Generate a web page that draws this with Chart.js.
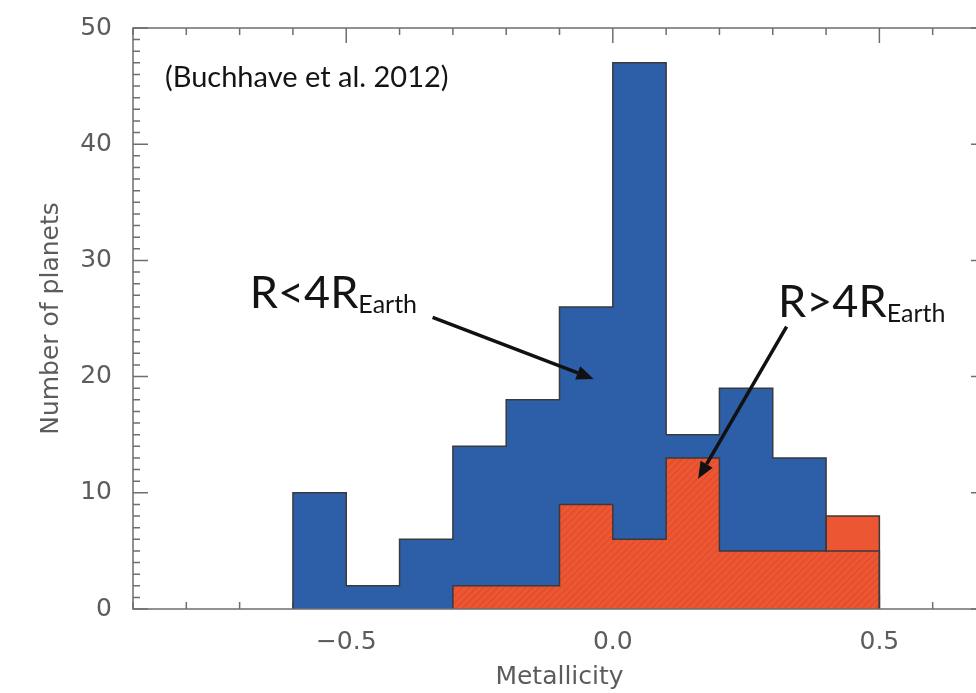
<!DOCTYPE html>
<html>
<head>
<meta charset="utf-8">
<script src="https://cdn.jsdelivr.net/npm/chart.js@4.4.1/dist/chart.umd.min.js"></script>
<style>
  html, body { margin: 0; padding: 0; background: #fff; overflow: hidden; }
  canvas { display: block; }
</style>
</head>
<body>
<canvas id="chart" width="1000" height="693"></canvas>
<script>
// bin edges in metallicity, 0.1 wide
const binEdges = [-0.6, -0.5, -0.4, -0.3, -0.2, -0.1, 0.0, 0.1, 0.2, 0.3, 0.4, 0.5];
// counts per bin
const smallCounts = [10, 2, 6, 14, 18, 26, 47, 15, 19, 13, 5];   // R < 4 R_Earth
const largeCounts = [0, 0, 0, 2, 2, 9, 6, 13, 5, 5, 8];          // R > 4 R_Earth
const xTicks = [-0.5, 0.0, 0.5];

const BLUE = '#2d5ea8';
const RED = '#ec5632';
const EDGE = '#3a3a3a';
const AXIS = '#6e6e6e';
const LABEL = '#5c5c5c';

// step outline points for a histogram (skip leading empty bins)
function stepPoints(counts) {
  let start = 0;
  while (start < counts.length && counts[start] === 0) start++;
  const pts = [{ x: binEdges[start], y: 0 }];
  for (let i = start; i < counts.length; i++) {
    pts.push({ x: binEdges[i], y: counts[i] });
  }
  const last = counts.length - 1;
  pts.push({ x: binEdges[last + 1], y: counts[last] });
  pts.push({ x: binEdges[last + 1], y: 0 });
  return pts;
}

const notes = [
  { text: '(Buchhave et al. 2012)', x: -0.84, y: 44.9, size: 29 },
  { text: 'R<4R', sub: 'Earth', x: -0.681, y: 25.9, size: 45 },
  { text: 'R>4R', sub: 'Earth', x: 0.31, y: 25.1, size: 45 }
];
const arrows = [
  { from: [-0.338, 25.1], to: [-0.036, 19.8] },
  { from: [0.326, 24.3], to: [0.160, 11.2] }
];

const frameTicks = {
  id: 'frameTicks',
  beforeDatasetsDraw(chart) {
    const { ctx, chartArea: a, scales: { x, y } } = chart;
    ctx.save();
    ctx.strokeStyle = AXIS;
    ctx.lineWidth = 1.5;
    ctx.beginPath();
    for (let i = 0; i <= 50; i++) {
      const py = y.getPixelForValue(i);
      const len = i % 10 === 0 ? 15 : 7;
      ctx.moveTo(a.left, py); ctx.lineTo(a.left + len, py);
      ctx.moveTo(a.right, py); ctx.lineTo(a.right - len, py);
    }
    for (let i = -9; i <= 7; i++) {
      const px = x.getPixelForValue(i / 10);
      const len = i % 5 === 0 ? 15 : 7;
      ctx.moveTo(px, a.bottom); ctx.lineTo(px, a.bottom - len);
      ctx.moveTo(px, a.top); ctx.lineTo(px, a.top + len);
    }
    ctx.stroke();
    ctx.restore();
  },
  afterDatasetDraw(chart, args) {
    if (args.index !== 1) return;
    // hatch where the large-planet bins sit under the small-planet bins
    const { ctx, scales: { x, y } } = chart;
    ctx.save();
    for (let i = 0; i < largeCounts.length; i++) {
      if (!largeCounts[i]) continue;
      const top = Math.min(largeCounts[i], smallCounts[i]);
      const x0 = x.getPixelForValue(binEdges[i]);
      const x1 = x.getPixelForValue(binEdges[i + 1]);
      const y0 = y.getPixelForValue(top);
      const y1 = y.getPixelForValue(0);
      ctx.save();
      ctx.beginPath();
      ctx.rect(x0, y0 + 1, x1 - x0, y1 - y0 - 1);
      ctx.clip();
      ctx.strokeStyle = 'rgba(170, 40, 20, 0.22)';
      ctx.lineWidth = 1.2;
      ctx.beginPath();
      const h = y1 - y0;
      // stripes anchored to the canvas so neighbouring bins line up
      for (let s = Math.floor((x0 - h - y1) / 7) * 7; s < x1 + 7; s += 7) {
        ctx.moveTo(s + y1 - y1, y1);
        ctx.lineTo(s + h, y0);
      }
      ctx.stroke();
      ctx.restore();
    }
    ctx.restore();
  },
  afterDatasetsDraw(chart) {
    const { ctx, chartArea: a } = chart;
    ctx.save();
    ctx.strokeStyle = AXIS;
    ctx.lineWidth = 1.5;
    ctx.strokeRect(a.left, a.top, a.right - a.left, a.bottom - a.top);
    ctx.restore();
  },
  afterDraw(chart) {
    const { ctx, scales: { x, y } } = chart;
    ctx.save();
    ctx.fillStyle = '#141414';
    ctx.textBaseline = 'alphabetic';
    ctx.textAlign = 'left';
    notes.forEach(n => {
      const px = x.getPixelForValue(n.x);
      const py = y.getPixelForValue(n.y);
      ctx.font = n.size + 'px Lato, "Open Sans", sans-serif';
      ctx.fillText(n.text, px, py);
      if (n.sub) {
        const w = ctx.measureText(n.text).width;
        ctx.font = Math.round(n.size * 0.55) + 'px Lato, "Open Sans", sans-serif';
        ctx.fillText(n.sub, px + w, py + 5);
      }
    });
    ctx.strokeStyle = '#111';
    ctx.lineWidth = 3.5;
    arrows.forEach(ar => {
      const x0 = x.getPixelForValue(ar.from[0]), y0 = y.getPixelForValue(ar.from[1]);
      const x1 = x.getPixelForValue(ar.to[0]), y1 = y.getPixelForValue(ar.to[1]);
      const ang = Math.atan2(y1 - y0, x1 - x0);
      const hl = 17, hw = 7;
      const bx = x1 - hl * Math.cos(ang), by = y1 - hl * Math.sin(ang);
      ctx.beginPath();
      ctx.moveTo(x0, y0);
      ctx.lineTo(bx, by);
      ctx.stroke();
      ctx.beginPath();
      ctx.moveTo(x1, y1);
      ctx.lineTo(bx + hw * Math.sin(ang), by - hw * Math.cos(ang));
      ctx.lineTo(bx - hw * Math.sin(ang), by + hw * Math.cos(ang));
      ctx.closePath();
      ctx.fillStyle = '#111';
      ctx.fill();
    });
    ctx.restore();
  }
};

const axisFont = { family: '"DejaVu Sans", sans-serif', size: 25 };

new Chart(document.getElementById('chart'), {
  type: 'line',
  data: {
    datasets: [
      {
        label: 'R<4R_Earth fill',
        data: stepPoints(smallCounts),
        stepped: 'before',
        fill: 'origin',
        backgroundColor: BLUE,
        borderWidth: 0,
        pointRadius: 0,
        order: 3
      },
      {
        label: 'R>4R_Earth',
        data: stepPoints(largeCounts),
        stepped: 'before',
        fill: 'origin',
        backgroundColor: RED,
        borderColor: EDGE,
        borderWidth: 1.5,
        pointRadius: 0,
        order: 2
      },
      {
        label: 'R<4R_Earth',
        data: stepPoints(smallCounts),
        stepped: 'before',
        fill: false,
        borderColor: EDGE,
        borderWidth: 1.5,
        pointRadius: 0,
        order: 1
      }
    ]
  },
  options: {
    responsive: false,
    animation: false,
    devicePixelRatio: 1,
    layout: { padding: { top: 18, right: 14, left: 0, bottom: 0 } },
    plugins: {
      legend: { display: false },
      tooltip: { enabled: false }
    },
    scales: {
      x: {
        type: 'linear',
        min: -0.9,
        max: 0.7,
        afterFit: s => { s.height = 84; },
        afterBuildTicks: s => { s.ticks = xTicks.map(v => ({ value: v })); },
        ticks: {
          font: axisFont,
          color: LABEL,
          padding: 10,
          callback: v => (v < 0 ? '\u2212' : '') + Math.abs(v).toFixed(1)
        },
        grid: { display: false },
        border: { display: false },
        title: {
          display: true,
          text: 'Metallicity',
          font: axisFont,
          color: LABEL,
          padding: { top: 0, bottom: 1 }
        }
      },
      y: {
        min: 0,
        max: 50,
        afterFit: s => { s.width = 133; },
        ticks: { stepSize: 10, font: axisFont, color: LABEL, padding: 13 },
        grid: { display: false },
        border: { display: false },
        title: {
          display: true,
          text: 'Number of planets',
          font: axisFont,
          color: LABEL,
          padding: { top: 36, bottom: 0 }
        }
      }
    }
  },
  plugins: [frameTicks]
});
</script>
</body>
</html>
